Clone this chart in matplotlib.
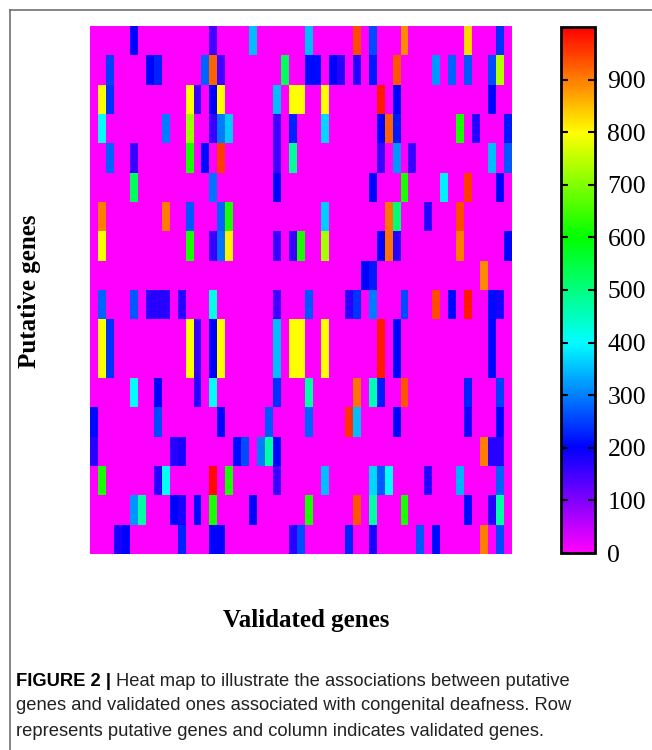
import numpy as np
import matplotlib
matplotlib.use("Agg")
import matplotlib.pyplot as plt
from matplotlib.colors import hsv_to_rgb, ListedColormap
from matplotlib.lines import Line2D

# association scores: one list per putative gene (row), (validated gene column, score)
N_PUTATIVE = 18
N_VALIDATED = 53

row_a = [(1, 800), (2, 240), (12, 800), (13, 160), (15, 200), (16, 800), (23, 350),
         (25, 800), (26, 800), (29, 800), (36, 980), (38, 200), (50, 200)]

associations = [
    [(5, 200), (15, 150), (20, 350), (27, 350), (33, 940), (35, 260), (39, 890), (47, 830), (51, 240)],
    [(2, 250), (7, 200), (8, 230), (14, 280), (15, 920), (16, 150), (24, 530), (27, 210), (28, 210),
     (30, 200), (31, 170), (33, 170), (35, 220), (38, 930), (43, 320), (45, 280), (47, 270),
     (50, 260), (51, 740)],
    row_a,
    [(1, 400), (9, 300), (12, 720), (15, 160), (16, 300), (17, 360), (23, 150), (25, 230), (29, 370),
     (36, 200), (37, 920), (38, 220), (46, 620), (48, 170), (52, 220)],
    [(2, 280), (5, 160), (12, 620), (14, 210), (16, 950), (23, 150), (25, 480), (36, 160), (38, 320),
     (40, 160), (50, 350), (52, 270)],
    [(5, 530), (15, 290), (23, 200), (35, 200), (39, 620), (44, 390), (47, 950), (51, 200)],
    [(1, 900), (9, 900), (12, 270), (16, 280), (17, 620), (29, 360), (37, 910), (38, 510), (42, 170),
     (46, 940)],
    [(1, 790), (12, 620), (15, 160), (16, 290), (17, 810), (23, 160), (25, 160), (26, 620), (29, 730),
     (36, 200), (37, 910), (38, 170), (46, 900), (52, 200)],
    [(34, 200), (35, 220), (49, 890)],
    [(1, 280), (5, 270), (7, 170), (8, 170), (9, 170), (11, 170), (15, 420), (23, 150), (27, 270),
     (32, 170), (33, 240), (35, 300), (39, 260), (43, 940), (45, 200), (47, 980), (50, 210), (51, 180)],
    row_a,
    row_a,
    [(5, 400), (8, 200), (13, 170), (15, 410), (23, 240), (27, 470), (33, 910), (35, 460), (36, 220),
     (39, 930), (47, 230), (51, 250)],
    [(0, 210), (8, 260), (16, 200), (22, 270), (27, 280), (32, 960), (33, 350), (38, 200), (47, 180),
     (51, 200)],
    [(0, 170), (10, 170), (11, 180), (18, 210), (19, 260), (21, 300), (22, 470), (23, 200), (49, 900),
     (50, 170), (51, 170)],
    [(1, 620), (8, 170), (9, 410), (15, 990), (17, 620), (23, 160), (29, 350), (35, 370), (36, 270),
     (37, 400), (42, 170), (46, 340), (51, 280)],
    [(5, 320), (6, 470), (10, 200), (11, 180), (13, 210), (15, 620), (20, 200), (27, 620), (33, 930),
     (35, 470), (39, 620), (47, 210), (50, 170), (51, 470)],
    [(3, 180), (4, 200), (11, 230), (15, 200), (16, 200), (25, 170), (26, 260), (32, 230), (35, 180),
     (41, 270), (43, 210), (49, 900), (51, 260)],
]

cbar_ticks = list(range(0, 1000, 100))

matrix = np.zeros((N_PUTATIVE, N_VALIDATED))
for r, cells in enumerate(associations):
    for c, v in cells:
        matrix[r, c] = v

# magenta (0) -> blue -> cyan -> green -> yellow -> red (1000)
hues = np.linspace(300 / 360, 0, 256)
cmap = ListedColormap(hsv_to_rgb(np.column_stack([hues, np.ones(256), np.ones(256)])))

fig = plt.figure(figsize=(6.52, 7.5), dpi=100)

ax = fig.add_axes([90 / 652, 1 - 554 / 750, 422 / 652, 528 / 750])
im = ax.imshow(matrix, cmap=cmap, vmin=0, vmax=1000, aspect="auto", interpolation="nearest")
ax.set_xticks([])
ax.set_yticks([])
for s in ax.spines.values():
    s.set_visible(False)

cax = fig.add_axes([561 / 652, 1 - 553 / 750, 34 / 652, 526 / 750])
cb = fig.colorbar(im, cax=cax, ticks=cbar_ticks)
cb.outline.set_linewidth(2)
cax.tick_params(direction="in", length=5, width=1.5, left=True, right=True,
                labelsize=18.5, pad=9)
for lab in cax.get_yticklabels():
    lab.set_family("Liberation Serif")

fig.text(30 / 652, 1 - 291 / 750, "Putative genes", rotation=90, ha="center", va="center",
         family="Liberation Serif", fontweight="bold", fontsize=18)
fig.text(306 / 652, 1 - 621 / 750, "Validated genes", ha="center", va="center",
         family="Liberation Serif", fontweight="bold", fontsize=18)

# frame lines of the figure panel
fig.add_artist(Line2D([9.5 / 652, 9.5 / 652], [0, 1 - 9.5 / 750], color="#707070", lw=1.2))
fig.add_artist(Line2D([9.5 / 652, 1], [1 - 9.5 / 750, 1 - 9.5 / 750], color="#707070", lw=1.2))

# caption
cap_size = 13.2
t = fig.text(16 / 652, 1 - 681 / 750, "FIGURE 2 |", ha="left", va="center",
             family="Liberation Sans", fontweight="bold", fontsize=cap_size)
fig.canvas.draw()
bb = t.get_window_extent()
fig.text((bb.x1 + 5) / 652, 1 - 681 / 750,
         "Heat map to illustrate the associations between putative",
         ha="left", va="center", family="Liberation Sans", fontsize=cap_size, color="#222222")
fig.text(16 / 652, 1 - 706 / 750,
         "genes and validated ones associated with congenital deafness. Row",
         ha="left", va="center", family="Liberation Sans", fontsize=cap_size, color="#222222")
fig.text(16 / 652, 1 - 732 / 750,
         "represents putative genes and column indicates validated genes.",
         ha="left", va="center", family="Liberation Sans", fontsize=cap_size, color="#222222")

fig.savefig("out.png", dpi=100)
